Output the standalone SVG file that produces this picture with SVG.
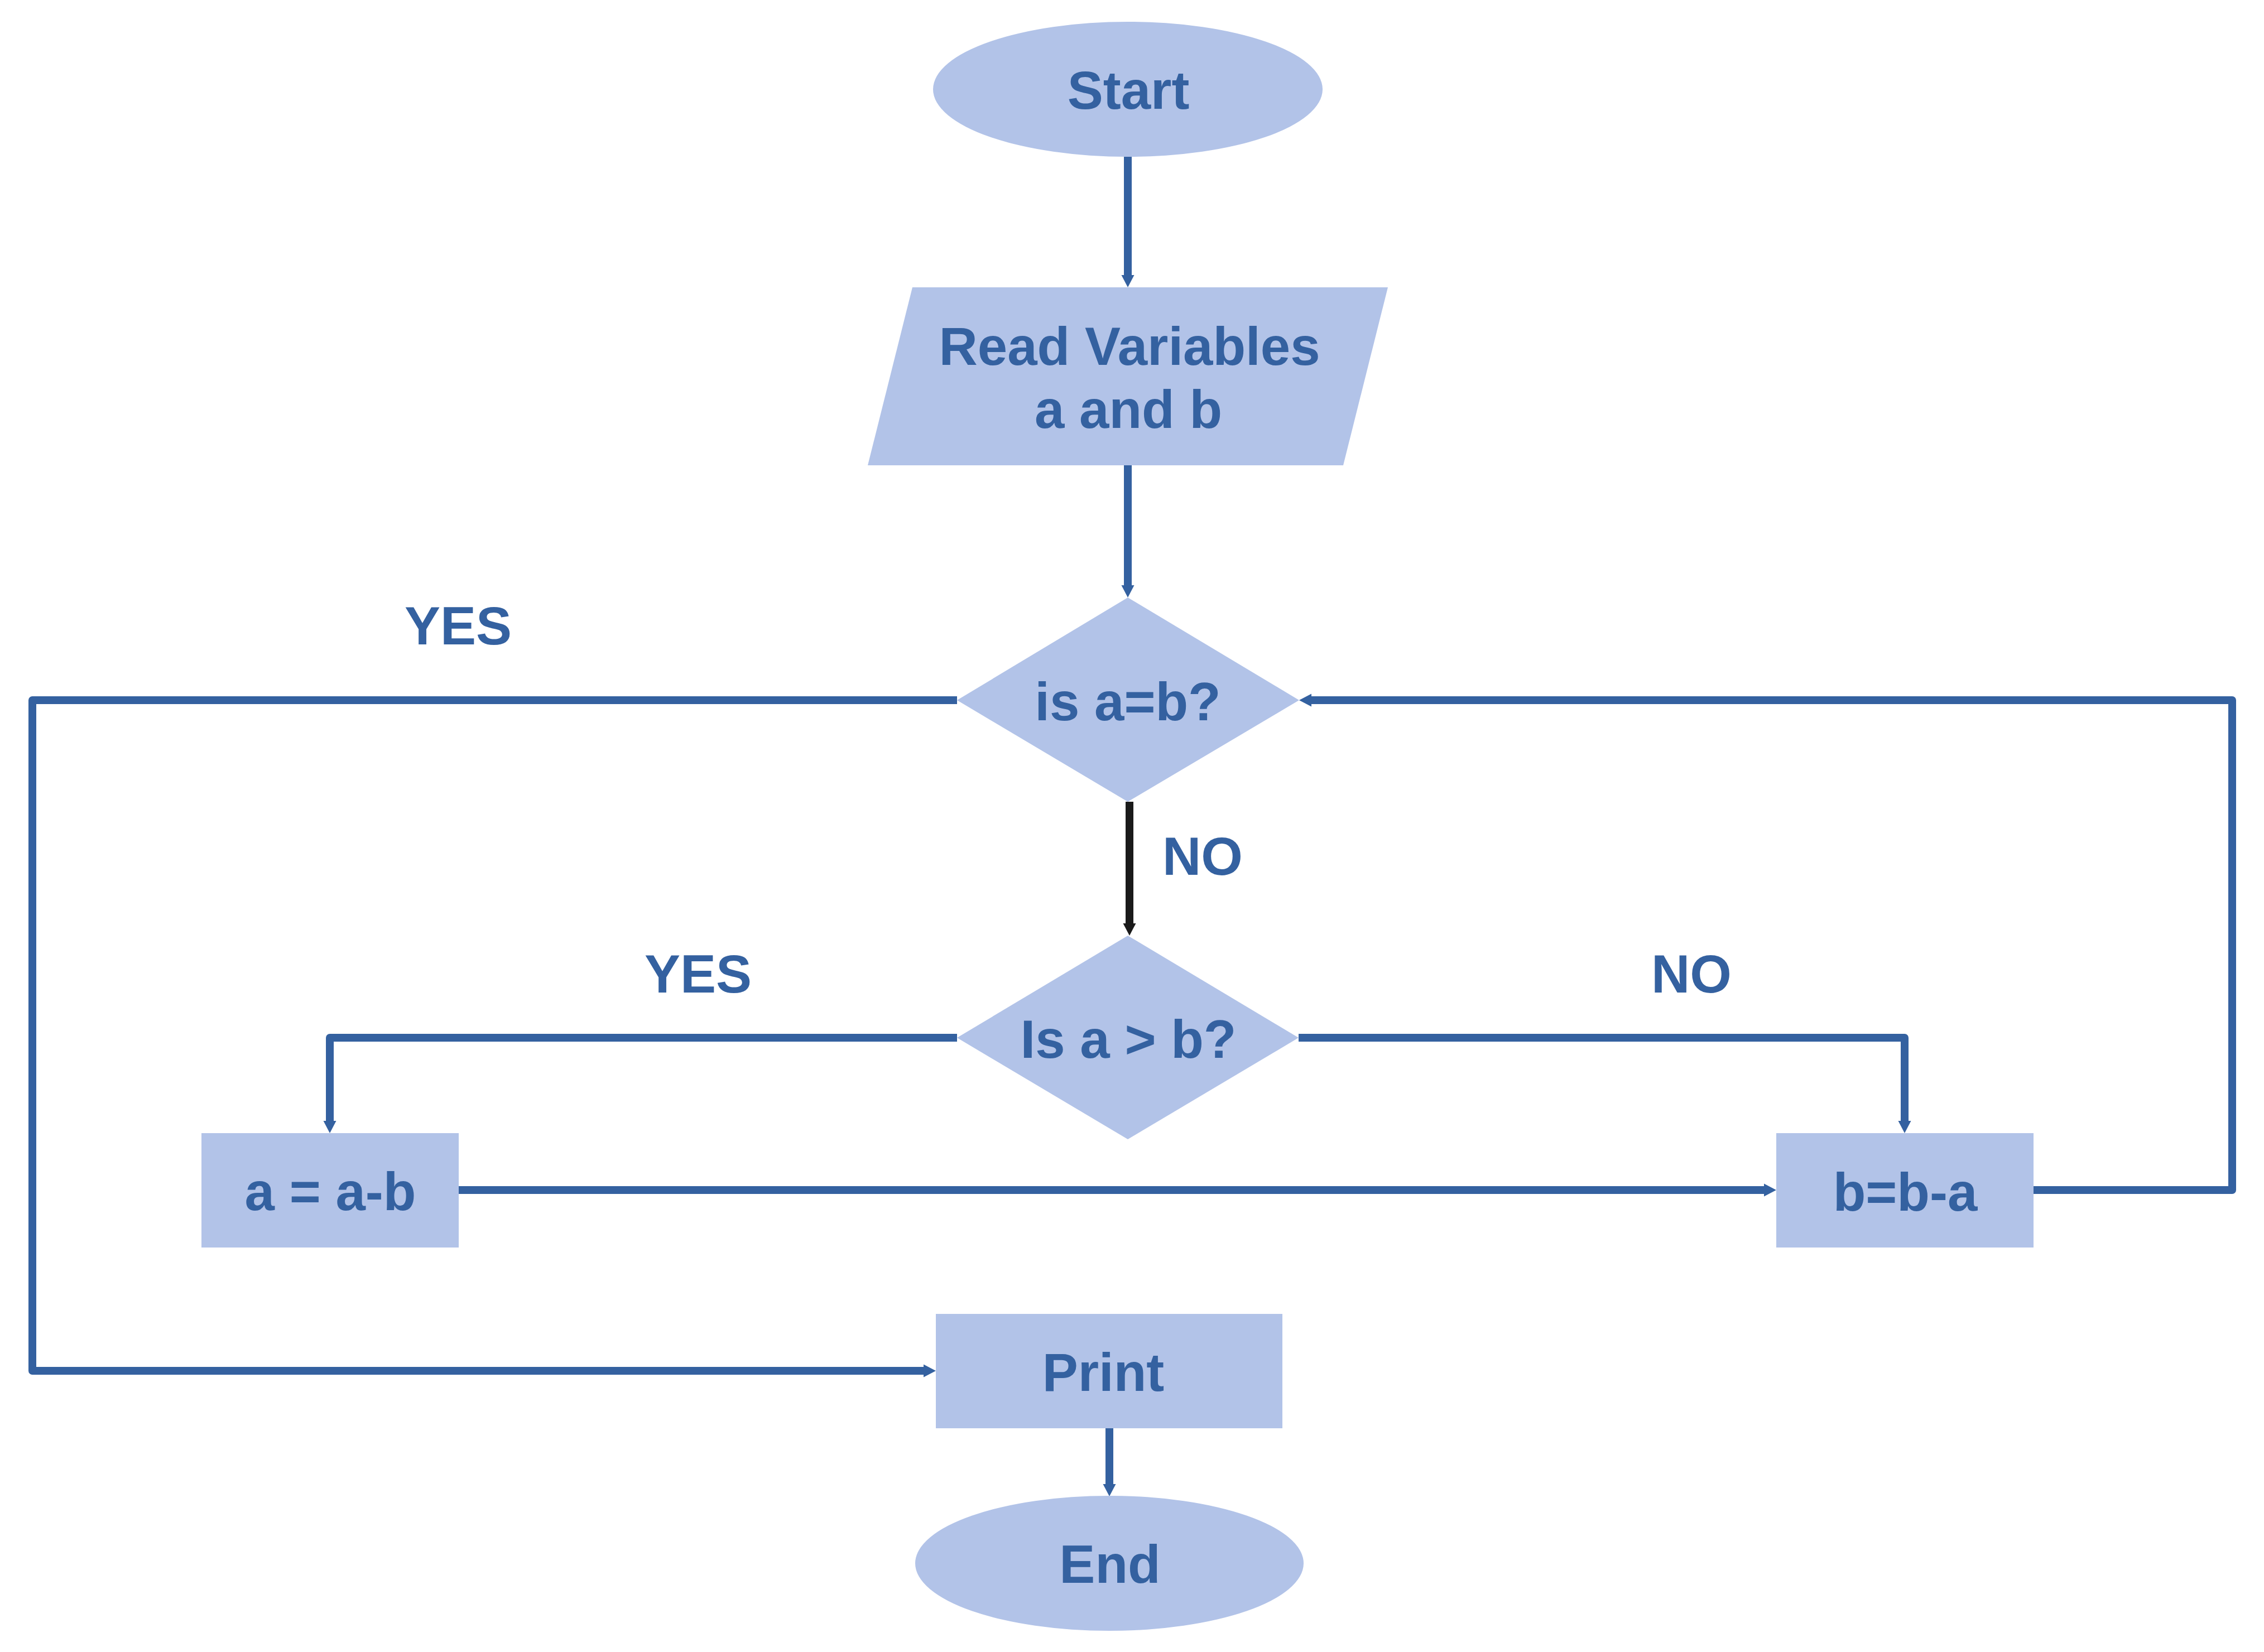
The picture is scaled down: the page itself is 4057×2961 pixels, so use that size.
<svg xmlns="http://www.w3.org/2000/svg" width="4057" height="2961" viewBox="0 0 4057 2961">
<style>
.n{fill:#B2C3E8;stroke:none}
.t{font-family:"Liberation Sans",Arial,sans-serif;font-weight:bold;font-size:96px;fill:#3461A0;text-anchor:middle}
.c{fill:none;stroke:#3461A0;stroke-width:14;stroke-linejoin:round;marker-end:url(#ah)}
.k{fill:none;stroke:#1A1A1A;stroke-width:14;marker-end:url(#ak)}
</style>
<defs>
<marker id="ah" markerUnits="userSpaceOnUse" markerWidth="24" markerHeight="24" refX="0" refY="11.5" orient="auto" overflow="visible">
<path d="M0,0 L22,11.5 L0,23 Z" fill="#3461A0"/>
</marker>
<marker id="ak" markerUnits="userSpaceOnUse" markerWidth="24" markerHeight="24" refX="0" refY="11.5" orient="auto" overflow="visible">
<path d="M0,0 L22,11.5 L0,23 Z" fill="#1A1A1A"/>
</marker>
</defs>
<rect width="4057" height="2961" fill="#FFFFFF"/>
<g id="connectors">
<path class="c" d="M2021,281 L2021,493"/>
<path class="c" d="M2021,834 L2021,1049"/>
<path class="k" d="M2024,1437 L2024,1655"/>
<path class="c" d="M1715,1255 L58,1255 L58,2457 L1655,2457"/>
<path class="c" d="M1715,1860 L591,1860 L591,2009"/>
<path class="c" d="M2327,1860 L3413,1860 L3413,2009"/>
<path class="c" d="M822,2133 L3161,2133"/>
<path class="c" d="M3644,2133 L4000,2133 L4000,1255 L2350,1255"/>
<path class="c" d="M1988,2560 L1988,2660"/>
</g>
<g id="labels">
<text class="t" x="821" y="1155">YES</text>
<text class="t" x="2155" y="1568">NO</text>
<text class="t" x="1251" y="1779">YES</text>
<text class="t" x="3031" y="1779">NO</text>
</g>
<g id="start">
<ellipse class="n" cx="2021" cy="160" rx="349" ry="121"/>
<text class="t" x="2022" y="195">Start</text>
</g>
<g id="read">
<polygon class="n" points="1635,515 2487,515 2407,834 1555,834"/>
<text class="t" x="2024" y="654">Read Variables</text>
<text class="t" x="2022" y="767">a and b</text>
</g>
<g id="is-equal">
<polygon class="n" points="2021,1071 2328,1255 2021,1437 1715,1255"/>
<text class="t" x="2021" y="1291">is a=b?</text>
</g>
<g id="is-greater">
<polygon class="n" points="2021,1677 2327,1860 2021,2042 1715,1860"/>
<text class="t" x="2022" y="1896">Is a &gt; b?</text>
</g>
<g id="a-minus-b">
<rect class="n" x="361" y="2031" width="461" height="205"/>
<text class="t" x="592" y="2169">a = a-b</text>
</g>
<g id="b-minus-a">
<rect class="n" x="3183" y="2031" width="461" height="205"/>
<text class="t" x="3414" y="2170">b=b-a</text>
</g>
<g id="print">
<rect class="n" x="1677" y="2355" width="621" height="205"/>
<text class="t" x="1977" y="2493">Print</text>
</g>
<g id="end">
<ellipse class="n" cx="1988" cy="2802" rx="348" ry="121"/>
<text class="t" x="1989" y="2837">End</text>
</g>
</svg>
